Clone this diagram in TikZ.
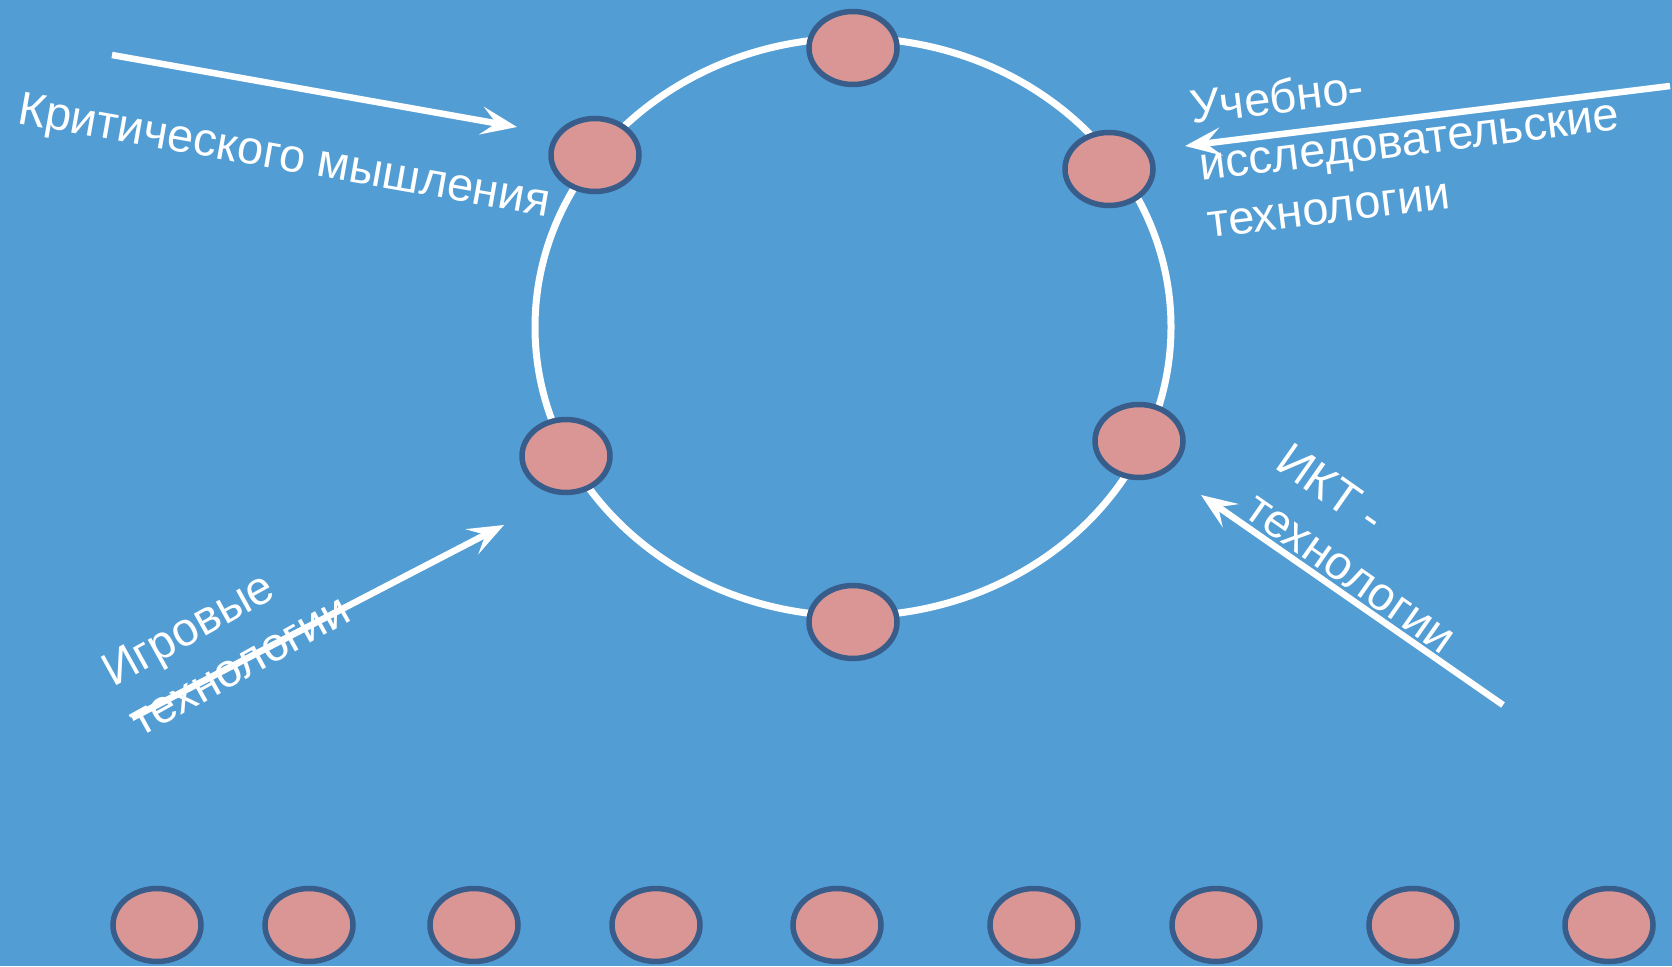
\documentclass[tikz,border=0pt]{standalone}
\usepackage{fontspec}
\setmainfont{Liberation Sans}
\usetikzlibrary{shapes.geometric,arrows.meta}
\definecolor{bgblue}{RGB}{83,157,213}
\definecolor{dotfill}{RGB}{217,150,148}
\definecolor{dotedge}{RGB}{56,93,138}
\tikzset{
  dot/.style={ellipse, draw=dotedge, line width=5.5pt, fill=dotfill, inner sep=0pt, minimum width=88pt, minimum height=73pt},
  ring/.style={draw=white, line width=7pt},
  arr/.style={draw=white, line width=6.5pt, -{Stealth[length=36pt,width=28pt,inset=15pt]}},
  lbl/.style={text=white, inner sep=0pt, anchor=base west, font=\fontsize{47}{57}\selectfont}
}
\begin{document}
\begin{tikzpicture}[x=1pt,y=-1pt]
\useasboundingbox[fill=bgblue] (0,0) rectangle (1672,966);
% ring
\draw[ring] (853,327) ellipse [x radius=318, y radius=289];
% dots on the ring
\node[dot] (top) at (853,48) {};
\node[dot] (ul) at (595,155) {};
\node[dot] (ur) at (1109,169) {};
\node[dot] (ll) at (566,456) {};
\node[dot] (lr) at (1139,441) {};
\node[dot] (bot) at (853,622) {};
% bottom row
\foreach \x [count=\i] in {157,309,474,656,837,1034,1216,1413,1609}
  \node[dot] (b\i) at (\x,925) {};
% arrow end points
\coordinate (a1s) at (112,55);
\coordinate (a1e) at (517,127);
\coordinate (a2s) at (1670,86);
\coordinate (a2e) at (1185,146);
\coordinate (a3s) at (132,718);
\coordinate (a3e) at (504,525);
\coordinate (a4s) at (1503,705);
\coordinate (a4e) at (1201,495);
\draw[arr] (a1s) -- (a1e);
\draw[arr] (a2s) -- (a2e);
\draw[arr] (a3s) -- (a3e);
\draw[arr] (a4s) -- (a4e);
% labels
\node[lbl, rotate=-10] (t1) at (16,123) {Критического мышления};
\node[lbl, rotate=7] (t2a) at (1192,124) {Учебно-};
\node[lbl, rotate=7] (t2b) at (1201,181) {исследовательские};
\node[lbl, rotate=7] (t2c) at (1209,238) {технологии};
\node[lbl, rotate=29] (t3a) at (113,688) {Игровые};
\node[lbl, rotate=29] (t3b) at (140,738) {технологии};
\node[lbl, rotate=-35] (t4a) at (1273,467) {ИКТ -};
\node[lbl, rotate=-35] (t4b) at (1242,515) {технологии};
\end{tikzpicture}
\end{document}
